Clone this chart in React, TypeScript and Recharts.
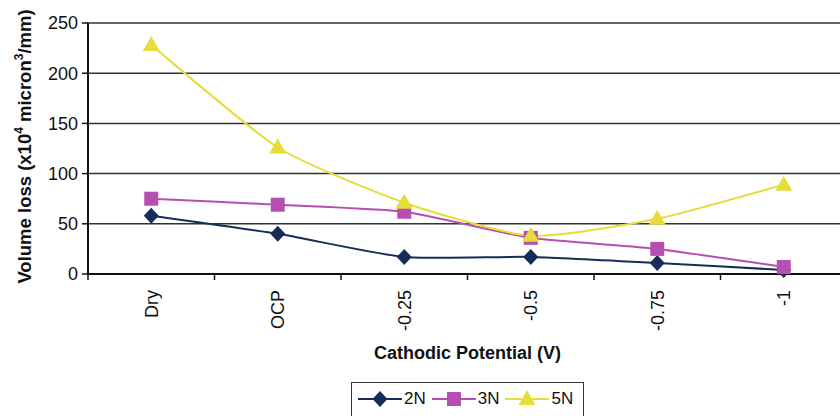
import React from 'react';
import { LineChart, Line, XAxis, YAxis, CartesianGrid } from 'recharts';

const categories = ['Dry', 'OCP', '-0.25', '-0.5', '-0.75', '-1'];
const values2N = [58, 40, 17, 17, 11, 4];
const values3N = [75, 69, 62, 36, 25, 7];
const values5N = [228, 126, 71, 38, 55, 89];
const yTicks = [0, 50, 100, 150, 200, 250];
const boundaryTicks = [0, 1, 2, 3, 4, 5, 6];

const series = [
  { key: 'n2', name: '2N', color: '#172c58', marker: 'diamond' },
  { key: 'n3', name: '3N', color: '#b64fb2', marker: 'square' },
  { key: 'n5', name: '5N', color: '#e6dc3a', marker: 'triangle' },
];

const data = categories.map((cat, i) => ({
  cat,
  pos: i + 0.5,
  n2: values2N[i],
  n3: values3N[i],
  n5: values5N[i],
}));

const FONT = '"Liberation Sans", Arial, sans-serif';

// spreadsheet-style smoothing, a looser Catmull-Rom through every point
const TENSION = 1 / 10;
const smoothCurve = (context: any) => {
  let pts: number[][] = [];
  return {
    areaStart() {},
    areaEnd() {},
    lineStart() {
      pts = [];
    },
    point(x: number, y: number) {
      pts.push([x, y]);
    },
    lineEnd() {
      if (!pts.length) return;
      context.moveTo(pts[0][0], pts[0][1]);
      for (let i = 0; i < pts.length - 1; i++) {
        const p0 = pts[i - 1] || pts[i];
        const p1 = pts[i];
        const p2 = pts[i + 1];
        const p3 = pts[i + 2] || p2;
        context.bezierCurveTo(
          p1[0] + (p2[0] - p0[0]) * TENSION,
          p1[1] + (p2[1] - p0[1]) * TENSION,
          p2[0] - (p3[0] - p1[0]) * TENSION,
          p2[1] - (p3[1] - p1[1]) * TENSION,
          p2[0],
          p2[1]
        );
      }
    },
  };
};

const Marker = ({ cx, cy, type, color }: { cx: number; cy: number; type: string; color: string }) => {
  if (type === 'diamond') {
    return <path d={`M${cx},${cy - 8}L${cx + 7.5},${cy}L${cx},${cy + 8}L${cx - 7.5},${cy}Z`} fill={color} />;
  }
  if (type === 'square') {
    return <rect x={cx - 7} y={cy - 7} width={14} height={14} fill={color} />;
  }
  return <path d={`M${cx},${cy - 9}L${cx + 8.5},${cy + 6}L${cx - 8.5},${cy + 6}Z`} fill={color} />;
};

const CatTick = (props: any) => {
  const { x, y, payload } = props;
  return (
    <g transform={`translate(${x},${y + 15})`}>
      <text transform="rotate(-90)" textAnchor="end" dy="0.35em" fontSize={18} fill="#111" fontFamily={FONT}>
        {payload.value}
      </text>
    </g>
  );
};

const EmptyTick = () => <g />;

const YLabel = (props: any) => {
  const { viewBox } = props;
  const cy = viewBox.y + viewBox.height / 2 - 2;
  return (
    <text
      transform={`translate(31,${cy}) rotate(-90)`}
      textAnchor="middle"
      fontSize={18.5}
      fontWeight="bold"
      fill="#111"
      fontFamily={FONT}
    >
      Volume loss (x10<tspan fontSize={12} dy={-8}>4</tspan>
      <tspan dy={8}> micron</tspan>
      <tspan fontSize={12} dy={-8}>3</tspan>
      <tspan dy={8}>/mm)</tspan>
    </text>
  );
};

const Legend = () => (
  <div
    style={{
      position: 'absolute',
      left: 351,
      top: 382,
      width: 233,
      height: 40,
      border: '1px solid #333',
      boxSizing: 'border-box',
      display: 'flex',
      alignItems: 'flex-start',
      paddingLeft: 6,
      paddingTop: 5,
      fontFamily: FONT,
      fontSize: 17,
      color: '#111',
    }}
  >
    {series.map(s => (
      <div key={s.key} style={{ display: 'flex', alignItems: 'center', marginRight: 6 }}>
        <svg width={44} height={22}>
          <line x1={0} y1={11} x2={44} y2={11} stroke={s.color} strokeWidth={2} />
          <Marker cx={22} cy={11} type={s.marker} color={s.color} />
        </svg>
        <span style={{ marginLeft: 2 }}>{s.name}</span>
      </div>
    ))}
  </div>
);

export default function App() {
  return (
    <div
      style={{
        position: 'absolute',
        left: 0,
        top: 0,
        width: 840,
        height: 416,
        overflow: 'hidden',
        background: '#fff',
      }}
    >
      <LineChart width={850} height={416} data={data} margin={{ top: 23, right: 3, left: 0, bottom: 0 }}>
        <CartesianGrid vertical={false} stroke="#333" strokeWidth={1.5} />
        <XAxis
          xAxisId="bounds"
          type="number"
          dataKey="pos"
          domain={[0, 6]}
          allowDataOverflow
          ticks={boundaryTicks}
          interval={0}
          height={1}
          tick={<EmptyTick />}
          tickSize={6}
          tickLine={{ stroke: '#111', strokeWidth: 1.5 }}
          axisLine={{ stroke: '#111', strokeWidth: 2 }}
        />
        <XAxis
          xAxisId="cat"
          dataKey="cat"
          scale="band"
          height={141}
          tickLine={false}
          axisLine={false}
          tickSize={0}
          tickMargin={0}
          tick={<CatTick />}
          interval={0}
          label={{
            value: 'Cathodic Potential (V)',
            position: 'insideBottom',
            offset: 57,
            fontSize: 18,
            fontWeight: 'bold',
            fill: '#111',
            fontFamily: FONT,
          }}
        />
        <YAxis
          width={88}
          domain={[0, 250]}
          ticks={yTicks}
          interval={0}
          tickSize={6}
          tickMargin={4}
          tick={{ fontSize: 18, fill: '#111', fontFamily: FONT }}
          tickLine={{ stroke: '#111', strokeWidth: 1.5 }}
          axisLine={{ stroke: '#111', strokeWidth: 2 }}
          label={<YLabel />}
        />
        {series.map(s => (
          <Line
            key={s.key}
            xAxisId="cat"
            dataKey={s.key}
            name={s.name}
            type={smoothCurve as any}
            stroke={s.color}
            strokeWidth={2}
            isAnimationActive={false}
            dot={(p: any) => <Marker key={`${s.key}-${p.index}`} cx={p.cx} cy={p.cy} type={s.marker} color={s.color} />}
            activeDot={false}
          />
        ))}
      </LineChart>
      <Legend />
    </div>
  );
}
